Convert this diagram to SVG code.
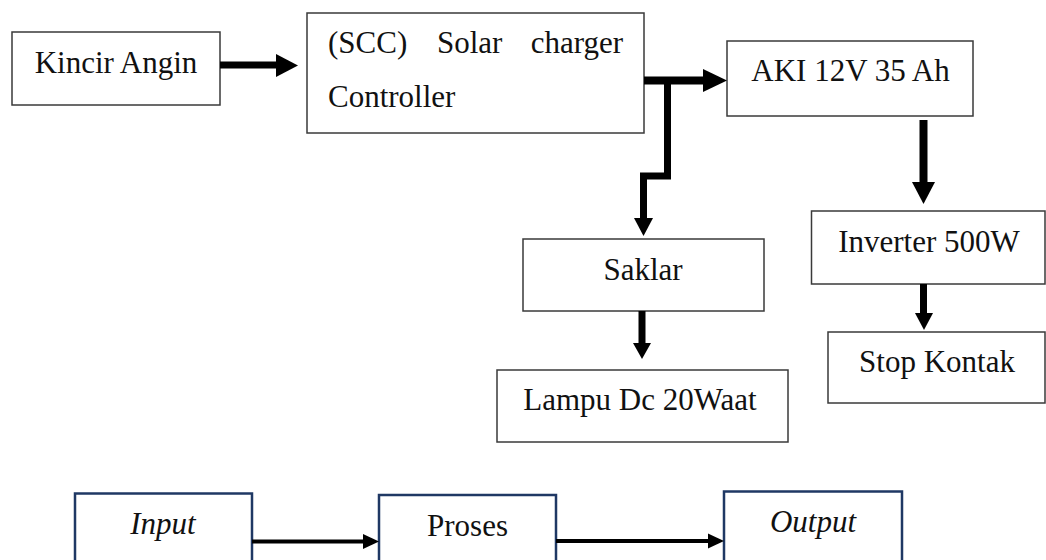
<svg xmlns="http://www.w3.org/2000/svg" width="1046" height="560" viewBox="0 0 1046 560">
<style>
.box{fill:#fff;stroke:#3a3a3a;stroke-width:1.5}
.nbox{fill:#fff;stroke:#1f3864;stroke-width:2.5}
.t{font-family:"Liberation Serif","Times New Roman",serif;font-size:31px;fill:#111}
.i{font-style:italic}
.m{text-anchor:middle}
.sh{fill:none;stroke:#000;stroke-linejoin:miter;stroke-linecap:butt}
.hd{fill:#000}
</style>
<rect width="1046" height="560" fill="#fff"/>
<g id="kincir"><rect class="box" x="12" y="32" width="208" height="73"/><text class="t m" x="116" y="73">Kincir Angin</text></g>
<g id="scc"><rect class="box" x="307" y="13" width="337" height="120"/><text class="t" y="53"><tspan x="328">(SCC)</tspan><tspan x="437">Solar</tspan><tspan x="623" text-anchor="end">charger</tspan></text><text class="t" x="328" y="107">Controller</text></g>
<g id="aki"><rect class="box" x="727" y="41" width="246" height="75"/><text class="t m" x="850.5" y="81">AKI 12V 35 Ah</text></g>
<g id="saklar"><rect class="box" x="523" y="239" width="241" height="72"/><text class="t m" x="643" y="280">Saklar</text></g>
<g id="lampu"><rect class="box" x="497" y="370" width="291" height="72"/><text class="t m" x="640" y="410">Lampu Dc 20Waat</text></g>
<g id="inverter"><rect class="box" x="811.5" y="211" width="233.5" height="73"/><text class="t m" x="929" y="252">Inverter 500W</text></g>
<g id="stop"><rect class="box" x="828" y="332" width="217" height="71"/><text class="t m" x="937" y="372">Stop Kontak</text></g>
<g id="input"><rect class="nbox" x="75" y="493.5" width="177" height="80"/><text class="t i m" x="163" y="534">Input</text></g>
<g id="proses"><rect class="nbox" x="379" y="495" width="177" height="80"/><text class="t m" x="467.5" y="536">Proses</text></g>
<g id="output"><rect class="nbox" x="724" y="491.5" width="178" height="80"/><text class="t i m" x="813" y="532">Output</text></g>
<g id="connectors">
<line class="sh" x1="220" y1="65" x2="277" y2="65" stroke-width="7"/>
<polygon class="hd" points="276,54 298,65.5 276,77"/>
<line class="sh" x1="644" y1="80.5" x2="704" y2="80.5" stroke-width="8"/>
<polygon class="hd" points="703,69 727,80.5 703,92"/>
<path class="sh" d="M667.5,81 V176 H643.5 V219" stroke-width="7"/>
<polygon class="hd" points="634,218 643.5,236 653,218"/>
<line class="sh" x1="923.5" y1="120" x2="923.5" y2="183" stroke-width="8"/>
<polygon class="hd" points="912,182 923.5,204 935,182"/>
<line class="sh" x1="642" y1="311" x2="642" y2="344" stroke-width="7"/>
<polygon class="hd" points="633,343 642,359 651,343"/>
<line class="sh" x1="923.5" y1="284" x2="923.5" y2="314" stroke-width="7"/>
<polygon class="hd" points="915,313 924,330 933,313"/>
<line class="sh" x1="252" y1="541.5" x2="364" y2="541.5" stroke-width="4"/>
<polygon class="hd" points="363,534 379,541.5 363,549"/>
<line class="sh" x1="556" y1="541" x2="709" y2="541" stroke-width="4"/>
<polygon class="hd" points="708,533.5 724,541 708,548.5"/>
</g>
</svg>
